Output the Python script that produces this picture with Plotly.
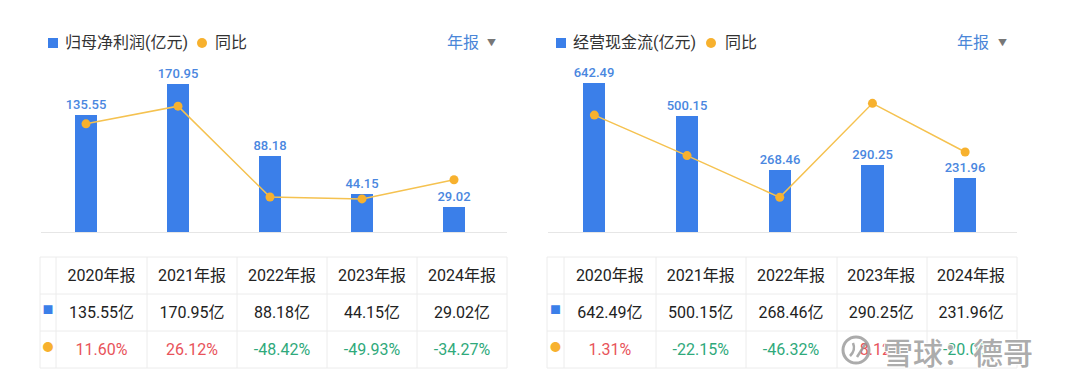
import plotly.graph_objects as go

# ---------------- data ----------------
years = ["2020年报", "2021年报", "2022年报", "2023年报", "2024年报"]
profit = [135.55, 170.95, 88.18, 44.15, 29.02]
profit_yoy = [11.60, 26.12, -48.42, -49.93, -34.27]
cash = [642.49, 500.15, 268.46, 290.25, 231.96]
cash_yoy = [1.31, -22.15, -46.32, 8.12, -20.08]
title_left = "归母净利润(亿元)"
title_right = "经营现金流(亿元)"
yoy_name = "同比"
period_label = "年报"

W, H = 1080, 386
def X(px):
    return px / W
def Y(py):
    return 1 - py / H

BAR = "#3b7fe9"
LABEL = "#4a87e0"
LINE = "#f5c250"
DOT = "#f7b12e"
RED = "#e8535a"
GREEN = "#2fa97b"
TXT = "#222222"
GRID = "#ececec"
FONT = "Roboto, Noto Sans CJK SC, sans-serif"
CLEAR = "rgba(0,0,0,0)"

fig = go.Figure()
shapes = []
anns = []

def add_panel(vals, yoy, xa, ya, ya2):
    fig.add_trace(go.Bar(
        x=years, y=vals, xaxis=xa, yaxis=ya, width=0.24,
        marker=dict(color=BAR, line=dict(width=0)),
        text=[f"{v:.2f}" for v in vals], textposition="outside",
        constraintext="none",
        textfont=dict(color=LABEL, size=13, family="Roboto", weight=500),
        cliponaxis=False, showlegend=False, hoverinfo="skip"))
    fig.add_trace(go.Scatter(
        x=years, y=yoy, xaxis=xa, yaxis=ya2, mode="lines+markers",
        line=dict(color=LINE, width=1.5), marker=dict(color=DOT, size=9),
        cliponaxis=False, showlegend=False, hoverinfo="skip"))

add_panel(profit, profit_yoy, "x", "y", "y2")
add_panel(cash, cash_yoy, "x2", "y3", "y4")

ROW_H = 37
TABLE_TOP = 257

def table(vals, yoy, x0, widths):
    cols = [["■", "●"]] + [[f"{v:.2f}亿", f"{p:.2f}%"] for v, p in zip(vals, yoy)]
    colors = [[BAR, DOT]] + [[TXT, RED if p > 0 else GREEN] for p in yoy]
    sizes = [11] + [16 for _ in yoy]
    x1 = x0 + sum(widths)
    # text block nudged down a little; grid drawn underneath as shapes
    fig.add_trace(go.Table(
        domain=dict(x=[X(x0), X(x1)], y=[0, Y(TABLE_TOP + 4)]),
        columnwidth=widths,
        header=dict(values=[""] + years, height=ROW_H, align="center",
                    fill_color=CLEAR, line=dict(color=CLEAR, width=0),
                    font=dict(size=16, color=TXT, family=FONT)),
        cells=dict(values=cols, height=ROW_H, align="center",
                   fill_color=CLEAR, line=dict(color=CLEAR, width=0),
                   font=dict(size=sizes, color=colors, family=FONT))))
    nrows = 3
    for r in range(nrows + 1):
        yy = TABLE_TOP + r * ROW_H
        shapes.append(dict(type="line", xref="paper", yref="paper", x0=X(x0), x1=X(x1),
                           y0=Y(yy), y1=Y(yy), line=dict(color=GRID, width=1), layer="below"))
    cx = x0
    for w in [0] + widths:
        cx += w
        shapes.append(dict(type="line", xref="paper", yref="paper", x0=X(cx), x1=X(cx),
                           y0=Y(TABLE_TOP), y1=Y(TABLE_TOP + nrows * ROW_H),
                           line=dict(color=GRID, width=1), layer="below"))

table(profit, profit_yoy, 40, [16, 91, 90, 90, 90, 90])
table(cash, cash_yoy, 547, [17, 92, 90, 91, 90, 90])

ydom = [Y(232), Y(59)]
hidden = dict(visible=False, showgrid=False, zeroline=False, fixedrange=True)
fig.update_layout(
    width=W, height=H, margin=dict(l=0, r=0, t=0, b=0),
    paper_bgcolor="white", plot_bgcolor="white",
    font=dict(family=FONT),
    bargap=0,
    xaxis=dict(domain=[X(40), X(500)], anchor="y", range=[-0.5, 4.5], **hidden),
    yaxis=dict(domain=ydom, anchor="x", range=[0, 200], **hidden),
    yaxis2=dict(overlaying="y", anchor="x", range=[-77.1, 64.8], **hidden),
    xaxis2=dict(domain=[X(548), X(1011.5)], anchor="y3", range=[-0.5, 4.5], **hidden),
    yaxis3=dict(domain=ydom, anchor="x2", range=[0, 746], **hidden),
    yaxis4=dict(overlaying="y3", anchor="x2", range=[-66.4, 33.8], **hidden),
)

for (x0, x1, name, lx, dotx, tx, px_, trix) in [
    (41, 507, title_left, 48, 202, 213, 445, 491),
    (548, 1017, title_right, 556, 711, 723, 955, 1002),
]:
    # baseline
    shapes.append(dict(type="line", xref="paper", yref="paper", x0=X(x0), x1=X(x1),
                       y0=Y(232.5), y1=Y(232.5), line=dict(color="#e6e6e6", width=1), layer="below"))
    # legend square
    shapes.append(dict(type="rect", xref="paper", yref="paper", x0=X(lx), x1=X(lx + 10),
                       y0=Y(48), y1=Y(38), fillcolor=BAR, line=dict(width=0)))
    # legend dot
    shapes.append(dict(type="circle", xref="paper", yref="paper", x0=X(dotx - 5), x1=X(dotx + 5),
                       y0=Y(48), y1=Y(38), fillcolor=DOT, line=dict(width=0)))
    anns.append(dict(text=name, xref="paper", yref="paper", x=X(lx + 15), y=Y(43),
                     xanchor="left", yanchor="middle", showarrow=False,
                     font=dict(size=16, color="#333333", family=FONT)))
    anns.append(dict(text=yoy_name, xref="paper", yref="paper", x=X(tx), y=Y(43),
                     xanchor="left", yanchor="middle", showarrow=False,
                     font=dict(size=16, color="#333333", family=FONT)))
    anns.append(dict(text=period_label, xref="paper", yref="paper", x=X(px_), y=Y(43),
                     xanchor="left", yanchor="middle", showarrow=False,
                     font=dict(size=16, color="#4a86d8", family=FONT)))
    anns.append(dict(text="▼", xref="paper", yref="paper", x=X(trix), y=Y(43),
                     xanchor="center", yanchor="middle", showarrow=False,
                     font=dict(size=9, color="#777777", family=FONT)))

# watermark
wm = "rgba(150,150,150,0.8)"
shapes.append(dict(type="circle", xref="paper", yref="paper", x0=X(843), x1=X(869),
                   y0=Y(363), y1=Y(337), line=dict(color=wm, width=3)))
shapes.append(dict(type="path", xref="paper", yref="paper",
                   path=f"M {X(850)},{Y(356)} Q {X(856)},{Y(350)} {X(853)},{Y(343)} M {X(857)},{Y(357)} L {X(866)},{Y(343)}",
                   line=dict(color=wm, width=2.5)))
anns.append(dict(text="雪球：德哥", xref="paper", yref="paper", x=X(881), y=Y(351),
                 xanchor="left", yanchor="middle", showarrow=False,
                 font=dict(size=30, color=wm, family="Noto Sans CJK SC", weight=500,
                           shadow="1px 1px 0 #fff, -1px -1px 0 #fff, 1px -1px 0 #fff, -1px 1px 0 #fff")))

fig.update_layout(shapes=shapes, annotations=anns)
fig.write_html("out.html", config={"displayModeBar": False},
               post_script="document.body.style.margin='0';")
